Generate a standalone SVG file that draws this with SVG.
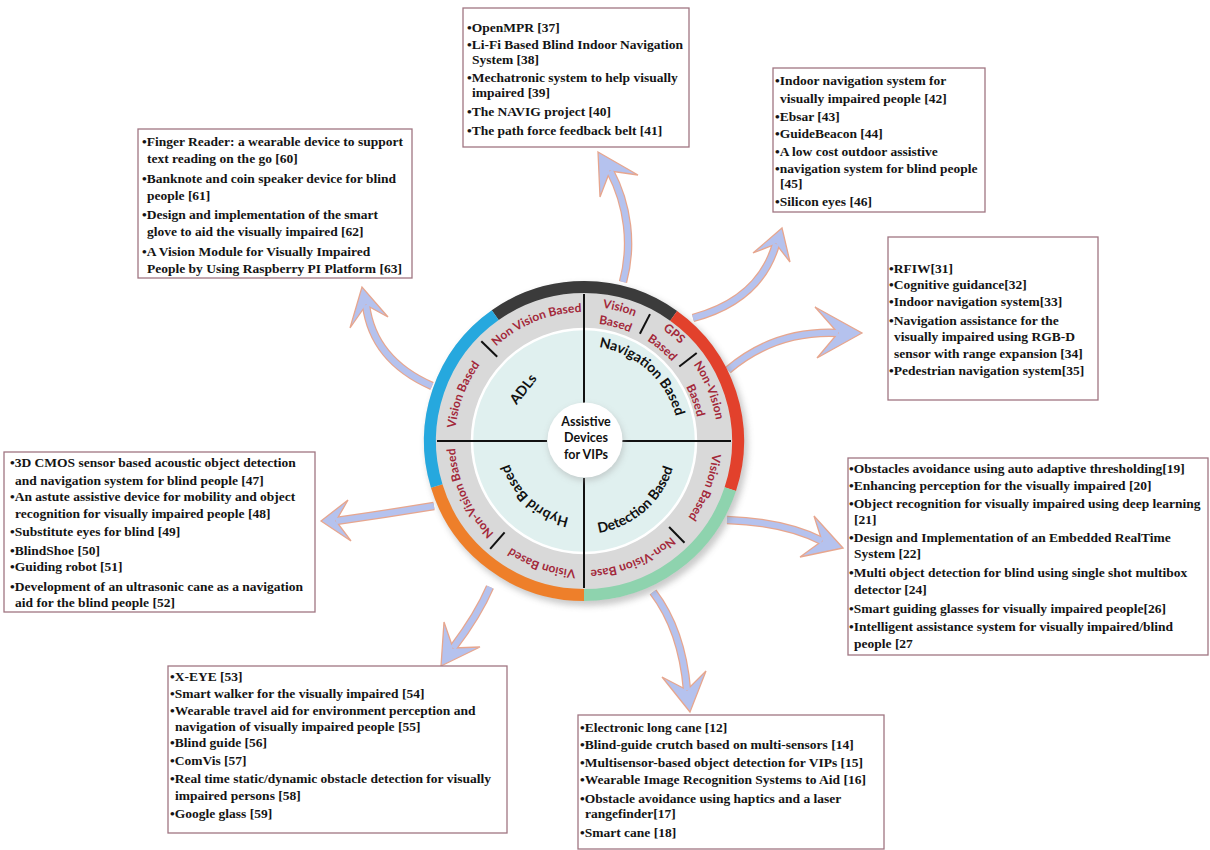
<svg xmlns="http://www.w3.org/2000/svg" width="1210" height="850" viewBox="0 0 1210 850">
<style>
.box rect{fill:#fff;stroke:#a07682;stroke-width:1.3}
.bt{font-family:"Liberation Serif","Times New Roman",serif;font-weight:bold;font-size:13.5px;fill:#141414}
.rl{font-family:Lato,"Open Sans",sans-serif;font-weight:bold;font-size:12px;fill:#a3283a}
.ql{font-family:Lato,"Open Sans",sans-serif;font-weight:bold;font-size:14px;fill:#111}
.ct{font-family:Lato,"Open Sans",sans-serif;font-weight:bold;font-size:12.5px;fill:#111;text-anchor:middle}
.so{fill:none;stroke:#e7a68e;stroke-width:8.5}
.si{fill:none;stroke:#b5c2ee;stroke-width:6}
.hd{fill:#b5c2ee;stroke:#e7a68e;stroke-width:1.3;stroke-linejoin:miter}
.ring{fill:none;stroke-width:12}
.tk{stroke:#111;stroke-width:2}
</style>
<defs>
<filter id="blur" x="-20%" y="-20%" width="140%" height="140%"><feGaussianBlur stdDeviation="3"/></filter>
<path id="p1" d="M461.31,401.14 A129,129 0 0 1 644.57,327.11"/>
<path id="p2" d="M471.18,503.54 A129,129 0 0 1 542.00,319.03"/>
<path id="p3a" d="M506.85,330.82 A134.5,134.5 0 0 1 705.90,384.16"/>
<path id="p3b" d="M516.32,344.33 A118,118 0 0 1 690.94,391.13"/>
<path id="p4a" d="M560.30,306.57 A136.5,136.5 0 0 1 720.5,441"/>
<path id="p4b" d="M563.43,324.30 A118.5,118.5 0 0 1 702.5,441"/>
<path id="p5a" d="M625.25,314.03 A133.5,133.5 0 0 1 701.87,503.68"/>
<path id="p5b" d="M623.50,332.46 A115.5,115.5 0 0 1 684.02,498.75"/>
<path id="p6" d="M696.82,378.46 A129,129 0 0 1 626.00,562.97"/>
<path id="p7" d="M707.09,479.57 A129,129 0 0 1 524.63,555.53"/>
<path id="p8" d="M650.44,551.58 A129,129 0 0 1 463.57,487.23"/>
<path id="p9" d="M549.53,565.30 A129,129 0 0 1 467.56,385.47"/>
<path id="q1" d="M554.64,350.65 A95,95 0 0 1 676.92,460.75"/>
<path id="q3" d="M553.72,528.93 A93,93 0 0 0 675.29,423.26"/>
<path id="q2" d="M608.10,515.19 A78,78 0 0 1 507.71,424.78"/>
</defs>

<g id="connectors">
<g id="arrow-top">
<path class="so" d="M623,282 C633,245 628,205 610,171"/>
<polygon class="hd" points="598,152 638,175 610,171 600,197"/>
<path class="si" d="M623,282 C633,245 628,205 610,171"/>
</g>
<g id="arrow-upper-right">
<path class="so" d="M693,318 Q760,300 776,244"/>
<polygon class="hd" points="782,228 790,262 776,244 753,253"/>
<path class="si" d="M693,318 Q760,300 776,244"/>
</g>
<g id="arrow-right">
<path class="so" d="M728,370 Q775,330 838,333"/>
<polygon class="hd" points="862,333 817,358 838,333 815,307"/>
<path class="si" d="M728,370 Q775,330 838,333"/>
</g>
<g id="arrow-upper-left">
<path class="so" d="M432,386 Q373,360 366,305"/>
<polygon class="hd" points="362,287 350,328 366,305 388,317"/>
<path class="si" d="M432,386 Q373,360 366,305"/>
</g>
<g id="arrow-left">
<path class="so" d="M434,506 Q385,514 336,521"/>
<polygon class="hd" points="321,521 348,500 336,521 351,541"/>
<path class="si" d="M434,506 Q385,514 336,521"/>
</g>
<g id="arrow-lower-left">
<path class="so" d="M490,587 Q478,615 453,648"/>
<polygon class="hd" points="441,666 444,622 453,648 480,647"/>
<path class="si" d="M490,587 Q478,615 453,648"/>
</g>
<g id="arrow-bottom">
<path class="so" d="M653,592 Q682,630 687,690"/>
<polygon class="hd" points="690,712 662,677 687,690 706,671"/>
<path class="si" d="M653,592 Q682,630 687,690"/>
</g>
<g id="arrow-lower-right">
<path class="so" d="M727,520 Q785,522 822,541"/>
<polygon class="hd" points="843,548 814,516 822,541 800,557"/>
<path class="si" d="M727,520 Q785,522 822,541"/>
</g>
</g>

<g id="hub">
<circle cx="587" cy="445" r="161" fill="#8a8a8a" opacity="0.45" filter="url(#blur)"/>
<circle cx="584" cy="441" r="160" fill="#d9d9d9"/>
<path class="ring" stroke="#3b3b3b" d="M495.23,315.17 A154,154 0 0 1 673.64,315.78"/>
<path class="ring" stroke="#e2412c" d="M673.64,315.78 A154,154 0 0 1 730.30,489.10"/>
<path class="ring" stroke="#8ed3ae" d="M730.30,489.10 A154,154 0 0 1 584,595"/>
<path class="ring" stroke="#ee7f2a" d="M584,595 A154,154 0 0 1 436.73,486.03"/>
<path class="ring" stroke="#26a8de" d="M436.73,486.03 A154,154 0 0 1 495.23,315.17"/>
<circle cx="584" cy="441" r="112" fill="#e0f0ef" stroke="#fff" stroke-width="2.5"/>
<line class="tk" x1="437" y1="441" x2="547" y2="441"/>
<line class="tk" x1="621" y1="441" x2="731" y2="441"/>
<line class="tk" x1="584" y1="294" x2="584" y2="404"/>
<line class="tk" x1="584" y1="478" x2="584" y2="588"/>
<line class="tk" x1="497.2" y1="356.8" x2="481.3" y2="341.3"/>
<line class="tk" x1="639.9" y1="333.7" x2="650.0" y2="314.1"/>
<line class="tk" x1="679.3" y1="366.5" x2="696.7" y2="353.0"/>
<line class="tk" x1="669.1" y1="527.0" x2="684.5" y2="542.7"/>
<line class="tk" x1="504.6" y1="532.3" x2="490.2" y2="548.9"/>
<circle cx="586" cy="443" r="38" fill="#9a9a9a" opacity="0.4" filter="url(#blur)"/>
<circle cx="585" cy="440" r="37.5" fill="#fff"/>
<text class="ct" x="586" y="426">Assistive</text>
<text class="ct" x="586" y="442">Devices</text>
<text class="ct" x="586" y="458.5">for VIPs</text>
<text class="rl" text-anchor="middle"><textPath href="#p1" startOffset="50%">Non Vision Based</textPath></text>
<text class="rl" text-anchor="middle"><textPath href="#p2" startOffset="50%">Vision Based</textPath></text>
<text class="rl" text-anchor="middle"><textPath href="#p3a" startOffset="50%">Vision</textPath></text>
<text class="rl" text-anchor="middle"><textPath href="#p3b" startOffset="50%">Based</textPath></text>
<text class="rl" text-anchor="middle"><textPath href="#p4a" startOffset="50%">GPS</textPath></text>
<text class="rl" text-anchor="middle"><textPath href="#p4b" startOffset="50%">Based</textPath></text>
<text class="rl" text-anchor="middle"><textPath href="#p5a" startOffset="50%">Non-Vision</textPath></text>
<text class="rl" text-anchor="middle"><textPath href="#p5b" startOffset="50%">Based</textPath></text>
<text class="rl" text-anchor="middle"><textPath href="#p6" startOffset="50%">Vision Based</textPath></text>
<text class="rl" text-anchor="middle"><textPath href="#p7" startOffset="50%">Non-Vision Base</textPath></text>
<text class="rl" text-anchor="middle"><textPath href="#p8" startOffset="50%">Vision Based</textPath></text>
<text class="rl" text-anchor="middle"><textPath href="#p9" startOffset="50%">Non-Vision Based</textPath></text>
<text class="ql" text-anchor="middle"><textPath href="#q1" startOffset="50%">Navigation Based</textPath></text>
<text class="ql" text-anchor="middle"><textPath href="#q3" startOffset="50%">Detection Based</textPath></text>
<text class="ql" text-anchor="middle"><textPath href="#q2" startOffset="50%">Hybrid Based</textPath></text>
<text class="ql" text-anchor="middle" transform="translate(527,392) rotate(-52)">ADLs</text>
</g>

<g id="box-navigation-vision" class="box">
<rect x="463" y="8" width="226" height="139"/>
<text class="bt" x="467" y="32">•OpenMPR [37]</text>
<text class="bt" x="467" y="49">•Li-Fi Based Blind Indoor Navigation</text>
<text class="bt" x="472" y="64">System [38]</text>
<text class="bt" x="467" y="81.5">•Mechatronic system to help visually</text>
<text class="bt" x="472" y="96.5">impaired [39]</text>
<text class="bt" x="467" y="115.5">•The NAVIG project [40]</text>
<text class="bt" x="467" y="134.5">•The path force feedback belt [41]</text>
</g>

<g id="box-navigation-gps" class="box">
<rect x="773" y="68" width="212" height="144"/>
<text class="bt" x="775" y="84.5">•Indoor navigation system for</text>
<text class="bt" x="780" y="103">visually impaired people [42]</text>
<text class="bt" x="775" y="121">•Ebsar [43]</text>
<text class="bt" x="775" y="138">•GuideBeacon [44]</text>
<text class="bt" x="775" y="155.5">•A low cost outdoor assistive</text>
<text class="bt" x="775" y="173">•navigation system for blind people</text>
<text class="bt" x="780" y="188">[45]</text>
<text class="bt" x="775" y="206">•Silicon eyes [46]</text>
</g>

<g id="box-adls" class="box">
<rect x="138" y="129" width="274" height="149"/>
<text class="bt" x="142" y="146">•Finger Reader: a wearable device to support</text>
<text class="bt" x="147" y="163">text reading on the go [60]</text>
<text class="bt" x="142" y="183">•Banknote and coin speaker device for blind</text>
<text class="bt" x="147" y="199.5">people [61]</text>
<text class="bt" x="142" y="219">•Design and implementation of the smart</text>
<text class="bt" x="147" y="236">glove to aid the visually impaired [62]</text>
<text class="bt" x="142" y="256">•A Vision Module for Visually Impaired</text>
<text class="bt" x="147" y="273">People by Using Raspberry PI Platform [63]</text>
</g>

<g id="box-navigation-nonvision" class="box">
<rect x="888" y="237" width="210" height="163"/>
<text class="bt" x="889" y="273">•RFIW[31]</text>
<text class="bt" x="889" y="289">•Cognitive guidance[32]</text>
<text class="bt" x="889" y="306">•Indoor navigation system[33]</text>
<text class="bt" x="889" y="324.5">•Navigation assistance for the</text>
<text class="bt" x="894" y="341">visually impaired using RGB-D</text>
<text class="bt" x="894" y="358">sensor with range expansion [34]</text>
<text class="bt" x="889" y="374.5">•Pedestrian navigation system[35]</text>
</g>

<g id="box-hybrid-nonvision" class="box">
<rect x="4" y="452" width="311" height="160"/>
<text class="bt" x="10" y="467">•3D CMOS sensor based acoustic object detection</text>
<text class="bt" x="15" y="484.5">and navigation system for blind people [47]</text>
<text class="bt" x="10" y="501">•An astute assistive device for mobility and object</text>
<text class="bt" x="15" y="518">recognition for visually impaired people [48]</text>
<text class="bt" x="10" y="536">•Substitute eyes for blind [49]</text>
<text class="bt" x="10" y="554.5">•BlindShoe [50]</text>
<text class="bt" x="10" y="571">•Guiding robot [51]</text>
<text class="bt" x="10" y="591">•Development of an ultrasonic cane as a navigation</text>
<text class="bt" x="15" y="607">aid for the blind people [52]</text>
</g>

<g id="box-detection-vision" class="box">
<rect x="848" y="458" width="360" height="197"/>
<text class="bt" x="849" y="473">•Obstacles avoidance using auto adaptive thresholding[19]</text>
<text class="bt" x="849" y="490">•Enhancing perception for the visually impaired [20]</text>
<text class="bt" x="849" y="508">•Object recognition for visually impaired using deep learning</text>
<text class="bt" x="854" y="523.5">[21]</text>
<text class="bt" x="849" y="542">•Design and Implementation of an Embedded RealTime</text>
<text class="bt" x="854" y="558">System [22]</text>
<text class="bt" x="849" y="577">•Multi object detection for blind using single shot multibox</text>
<text class="bt" x="854" y="593.5">detector [24]</text>
<text class="bt" x="849" y="613">•Smart guiding glasses for visually impaired people[26]</text>
<text class="bt" x="849" y="631">•Intelligent assistance system for visually impaired/blind</text>
<text class="bt" x="854" y="648">people [27</text>
</g>

<g id="box-hybrid-vision" class="box">
<rect x="168" y="666" width="339" height="167"/>
<text class="bt" x="170" y="681">•X-EYE [53]</text>
<text class="bt" x="170" y="698">•Smart walker for the visually impaired [54]</text>
<text class="bt" x="170" y="714.5">•Wearable travel aid for environment perception and</text>
<text class="bt" x="175" y="731">navigation of visually impaired people [55]</text>
<text class="bt" x="170" y="747">•Blind guide [56]</text>
<text class="bt" x="170" y="764.5">•ComVis [57]</text>
<text class="bt" x="170" y="783">•Real time static/dynamic obstacle detection for visually</text>
<text class="bt" x="175" y="799.5">impaired persons [58]</text>
<text class="bt" x="170" y="818">•Google glass [59]</text>
</g>

<g id="box-detection-nonvision" class="box">
<rect x="578" y="715" width="306" height="134"/>
<text class="bt" x="580" y="731.5">•Electronic long cane [12]</text>
<text class="bt" x="580" y="749">•Blind-guide crutch based on multi-sensors [14]</text>
<text class="bt" x="580" y="766.5">•Multisensor-based object detection for VIPs [15]</text>
<text class="bt" x="580" y="784">•Wearable Image Recognition Systems to Aid [16]</text>
<text class="bt" x="580" y="802.5">•Obstacle avoidance using haptics and a laser</text>
<text class="bt" x="585" y="818">rangefinder[17]</text>
<text class="bt" x="580" y="836.5">•Smart cane [18]</text>
</g>
</svg>
